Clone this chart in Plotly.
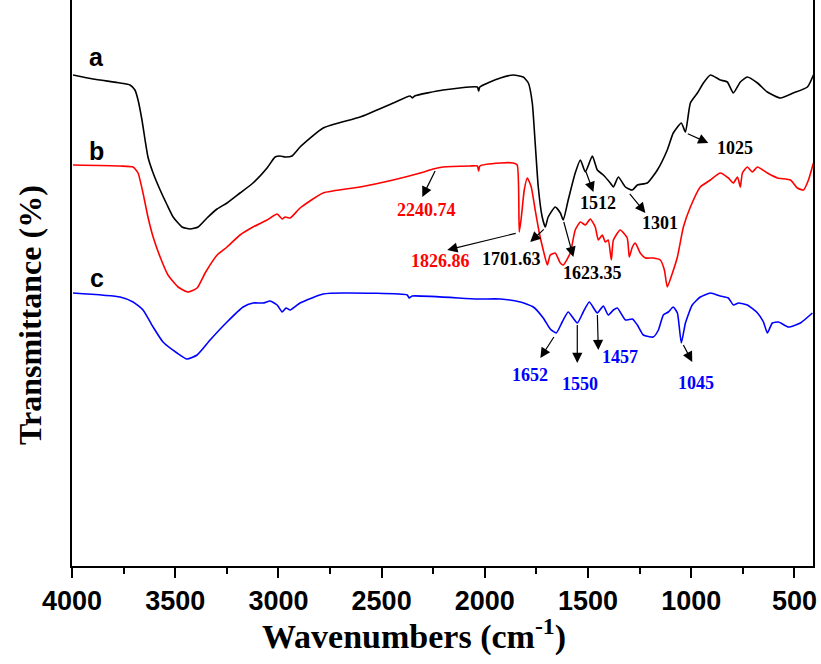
import plotly.graph_objects as go

# ---- data (wavenumber cm-1, transmittance in arbitrary offset units) ----
wn_a = [3995, 3898, 3767, 3719, 3695, 3680, 3661, 3646, 3632, 3607, 3573, 3539, 3510, 3467, 3428, 3389, 3346,
        3297, 3249, 3186, 3123, 3055, 3016, 2992, 2967, 2934, 2895, 2783, 2604, 2444, 2362, 2350, 2340, 2202,
        2036, 2030, 2024, 1925, 1862, 1814, 1789, 1770, 1756, 1741, 1722, 1707, 1693, 1659, 1634, 1620, 1596,
        1562, 1537, 1513, 1479, 1455, 1426, 1392, 1377, 1353, 1319, 1285, 1261, 1213, 1164, 1116, 1087, 1048,
        1028, 1004, 970, 941, 907, 859, 825, 796, 762, 728, 679, 631, 568, 505, 437, 408]
t_a = [98.2, 97.4, 96.6, 96.2, 95.2, 93.2, 89.2, 85.2, 81.8, 78.6, 75.2, 72.2, 69.8, 67.8, 67.4, 67.8, 69.6,
       71.4, 72.6, 74.6, 76.6, 79.6, 81.8, 82.0, 81.8, 82.0, 83.8, 87.6, 89.8, 92.6, 94.0, 93.6, 94.0, 95.2,
       95.8, 95.0, 95.8, 97.6, 98.2, 97.8, 96.6, 92.6, 84.6, 75.8, 69.8, 67.8, 69.8, 71.8, 70.6, 69.2, 73.2,
       78.6, 81.2, 78.8, 82.0, 79.2, 78.2, 76.6, 75.8, 77.8, 75.8, 75.2, 76.2, 76.6, 79.2, 83.2, 86.6, 88.6,
       86.8, 92.6, 94.6, 96.6, 98.2, 97.2, 96.8, 94.6, 96.8, 97.8, 96.6, 94.8, 93.6, 94.6, 95.8, 98.2]

wn_b = [3995, 3767, 3704, 3680, 3656, 3632, 3607, 3573, 3535, 3486, 3438, 3394, 3355, 3297, 3249, 3186, 3123,
        3055, 3006, 2982, 2967, 2943, 2895, 2783, 2604, 2444, 2313, 2250, 2202, 2071, 2036, 2030, 2024, 1925,
        1862, 1843, 1833, 1823, 1809, 1794, 1775, 1756, 1736, 1717, 1697, 1683, 1659, 1634, 1620, 1586, 1562,
        1537, 1513, 1489, 1465, 1450, 1431, 1416, 1402, 1387, 1377, 1344, 1310, 1300, 1285, 1271, 1247, 1222,
        1184, 1150, 1130, 1116, 1091, 1067, 1038, 1004, 956, 907, 859, 820, 796, 776, 762, 752, 728, 704, 679,
        631, 582, 519, 486, 456, 432, 408]
t_b = [80.2, 80.0, 79.8, 78.6, 74.6, 69.8, 65.8, 61.8, 58.2, 55.8, 54.8, 55.6, 58.6, 62.2, 63.8, 66.2, 67.8,
       69.2, 70.4, 69.4, 69.8, 69.6, 71.6, 74.6, 75.8, 77.2, 78.6, 79.4, 79.8, 80.0, 80.0, 79.0, 80.0, 80.6,
       80.6, 80.2, 66.8, 69.8, 75.2, 77.6, 75.8, 71.2, 66.6, 63.2, 60.2, 62.2, 62.6, 60.6, 60.2, 62.6, 67.2,
       68.8, 68.2, 69.4, 67.8, 65.2, 66.2, 64.8, 65.2, 61.2, 65.2, 67.2, 65.6, 61.8, 63.8, 64.6, 62.6, 61.6,
       61.6, 61.2, 59.2, 55.8, 58.6, 61.8, 67.8, 71.8, 75.8, 77.2, 78.6, 77.6, 76.6, 77.8, 75.8, 78.6, 79.8,
       78.8, 79.8, 78.6, 77.6, 77.2, 75.6, 75.2, 77.2, 80.6]

wn_c = [3995, 3767, 3704, 3656, 3607, 3559, 3491, 3443, 3394, 3331, 3249, 3171, 3123, 3074, 3040, 3006, 2982,
        2963, 2943, 2895, 2783, 2686, 2376, 2366, 2352, 2037, 1925, 1828, 1765, 1717, 1683, 1654, 1625, 1596,
        1552, 1523, 1494, 1455, 1426, 1402, 1377, 1358, 1319, 1285, 1261, 1232, 1184, 1159, 1135, 1111, 1087,
        1067, 1048, 1028, 995, 956, 907, 859, 820, 796, 771, 728, 679, 650, 631, 607, 577, 529, 471, 413]
t_c = [54.6, 53.8, 52.8, 51.2, 47.8, 44.8, 42.6, 41.4, 42.2, 45.2, 48.8, 51.8, 52.6, 52.6, 53.0, 52.2, 50.8,
       51.6, 51.2, 52.6, 54.4, 54.6, 54.2, 53.6, 54.0, 53.4, 53.4, 52.8, 51.8, 49.6, 47.4, 46.6, 48.8, 50.8,
       48.6, 50.8, 52.8, 50.6, 52.0, 50.2, 51.2, 51.6, 49.2, 49.4, 48.2, 46.2, 45.8, 47.2, 50.2, 50.8, 51.8,
       50.6, 44.6, 48.6, 52.2, 53.8, 54.6, 54.0, 53.6, 52.2, 52.6, 52.2, 50.6, 48.8, 46.6, 48.6, 48.8, 47.8,
       48.6, 50.6]

curve_names = ["a", "b", "c"]
curve_colors = ["#000000", "#ff0000", "#0000ff"]
curve_label_y = [101.8, 83.0, 57.6]

# peak labels: text, colour, text pos (wn, t), arrow tail (wn, t), arrow head (wn, t)
peak_text = ["2240.74", "1826.86", "1701.63", "1623.35", "1512", "1301", "1025", "1652", "1550", "1457", "1045"]
peak_color = ["#ff0000", "#ff0000", "#000000", "#000000", "#000000", "#000000", "#000000",
              "#0000ff", "#0000ff", "#0000ff", "#0000ff"]
peak_text_x = [2284, 2216, 1872, 1479, 1450, 1150, 786, 1780, 1537, 1344, 975]
peak_text_y = [71.2, 61.0, 61.4, 58.6, 72.6, 68.6, 83.6, 38.2, 36.4, 41.8, 36.6]
tail_x = [2236, 1843, 1707, 1620, 1513, 1305, 1024, 1659, 1552, 1455, 1043]
tail_y = [79.4, 66.6, 67.6, 69.2, 79.2, 74.8, 86.6, 46.2, 48.6, 50.6, 44.6]
head_x = [2303, 2182, 1780, 1571, 1474, 1222, 917, 1731, 1552, 1450, 995]
head_y = [73.8, 63.2, 64.8, 61.8, 74.8, 70.6, 84.6, 41.6, 40.6, 43.2, 40.8]

x_ticks = [4000, 3500, 3000, 2500, 2000, 1500, 1000, 500]

fig = go.Figure()
for wn, t, col, nm in zip([wn_a, wn_b, wn_c], [t_a, t_b, t_c], curve_colors, curve_names):
    fig.add_trace(go.Scatter(x=wn, y=t, mode="lines", name=nm,
                             line=dict(color=col, width=1.6, shape="spline", smoothing=0.5),
                             showlegend=False))

ann = []
for nm, yy in zip(curve_names, curve_label_y):
    ann.append(dict(x=3879, y=yy, xref="x", yref="y", text=nm, showarrow=False,
                    font=dict(family="Liberation Sans", size=25, color="black", weight="bold")))
for i in range(len(peak_text)):
    ann.append(dict(x=head_x[i], y=head_y[i], ax=tail_x[i], ay=tail_y[i], xref="x", yref="y",
                    axref="x", ayref="y", text=" ", showarrow=True, arrowhead=2, arrowsize=1.7,
                    arrowwidth=1.2, arrowcolor="black", standoff=0, startstandoff=0,
                    font=dict(size=1)))
    ann.append(dict(x=peak_text_x[i], y=peak_text_y[i], xref="x", yref="y", text=peak_text[i],
                    showarrow=False,
                    font=dict(family="Liberation Serif", size=18, color=peak_color[i], weight="bold")))

fig.update_layout(
    width=821, height=664,
    margin=dict(l=72, r=8, t=0, b=98),
    plot_bgcolor="white", paper_bgcolor="white",
    annotations=ann,
    xaxis=dict(range=[4000, 410], tickvals=x_ticks, ticks="outside", ticklen=10, tickwidth=2,
               tickcolor="black", showline=True, linewidth=2, linecolor="black", mirror=False,
               showgrid=False, zeroline=False, ticklabelstandoff=0,
               tickfont=dict(family="Liberation Sans", size=27, color="black", weight="bold"),
               minor=dict(dtick=250, tick0=0, ticks="outside", ticklen=6, tickwidth=2, tickcolor="black")),
    yaxis=dict(range=[0, 113.2], showticklabels=False, ticks="", showline=True, linewidth=2,
               linecolor="black", mirror=True, showgrid=False, zeroline=False),
)
fig.add_annotation(x=(414 - 72) / 741.0, y=(566 - 634) / 566.0, xref="paper", yref="paper",
                   xanchor="center", yanchor="middle", showarrow=False,
                   text="Wavenumbers (cm<sup>-1</sup>)",
                   font=dict(family="Liberation Serif", size=34, color="black", weight="bold"))
fig.add_annotation(x=(30 - 72) / 741.0, y=(566 - 315) / 566.0, xref="paper", yref="paper",
                   xanchor="center", yanchor="middle", showarrow=False, textangle=-90,
                   text="Transmittance (%)",
                   font=dict(family="Liberation Serif", size=32, color="black", weight="bold"))

fig.write_html("out.html")
